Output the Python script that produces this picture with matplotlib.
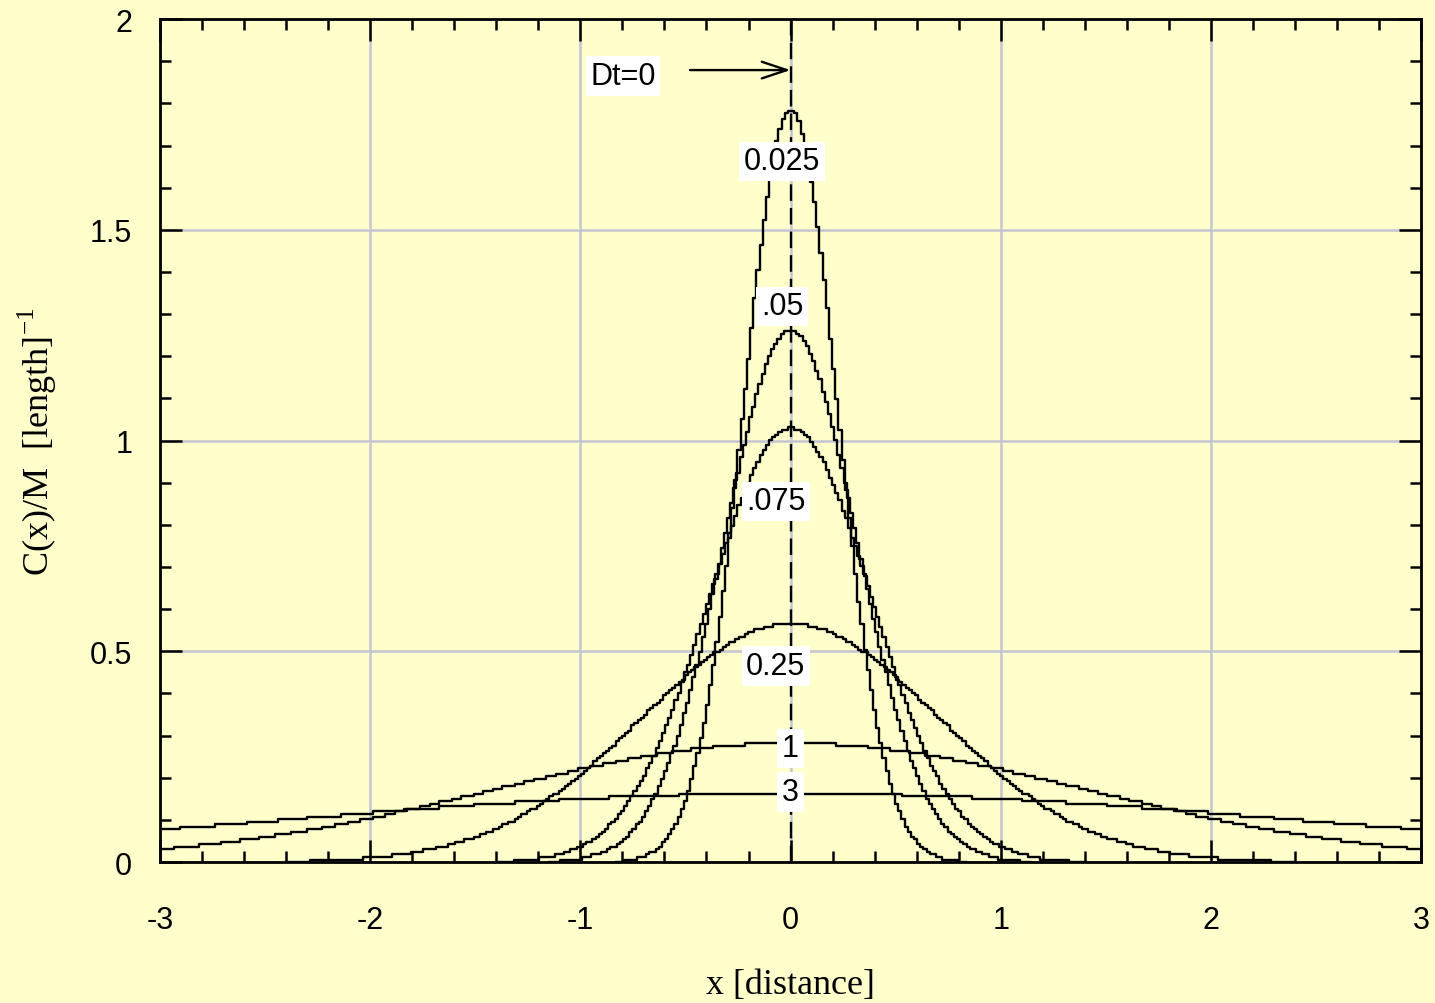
import numpy as np
import matplotlib
matplotlib.use('Agg')
import matplotlib.pyplot as plt
from matplotlib.ticker import MultipleLocator

plt.rcParams['axes.unicode_minus'] = False
plt.rcParams['mathtext.fontset'] = 'custom'
plt.rcParams['mathtext.rm'] = 'Liberation Serif'

# --- Data: Dt values of the diffusion profiles, their plotted half-widths and label spots ---
dt_values = [0.025, 0.05, 0.075, 0.25, 1.0, 3.0]
half_widths = [0.83, 1.15, 1.40, 2.40, 3.0, 3.0]
label_texts = ['0.025', '.05', '.075', '0.25', '1', '3']
label_x = [-0.04, -0.04, -0.07, -0.07, 0.0, 0.0]
label_y = [1.663, 1.319, 0.856, 0.465, 0.270, 0.166]

x_ticks = [-3, -2, -1, 0, 1, 2, 3]
y_ticks = [0, 0.5, 1, 1.5, 2]
y_tick_labels = ['0', '0.5', '1', '1.5', '2']

bg = '#ffffcc'
sans = 'Liberation Sans'
serif = 'Liberation Serif'
fs = 22

# plotting resolution (gives the stair-stepped look of the curves)
dx = 0.015
dq = 0.006


def profile(dt, half):
    # point source solution C(x)/M = exp(-x^2 / 4Dt) / sqrt(4 pi Dt)
    x = np.arange(-half, half + dx / 2, dx)
    c = np.exp(-x ** 2 / (4 * dt)) / np.sqrt(4 * np.pi * dt)
    return x, np.round(c / dq) * dq


fig = plt.figure(figsize=(14.35, 10.04), dpi=100, facecolor=bg)
ax = fig.add_axes([0.1115, 0.1404, 0.8788, 0.8396], facecolor=bg)

for dt, half in zip(dt_values, half_widths):
    x, c = profile(dt, half)
    ax.plot(x, c, color='black', lw=1.7, drawstyle='steps-mid', zorder=3)

# Dt = 0 : the initial spike at the origin
ax.plot([0, 0], [0, 2], color='black', lw=1.7, linestyle=(0, (7, 3)), zorder=3)

box = dict(boxstyle='square,pad=0.15', fc='white', ec='none')
for t, lx, ly in zip(label_texts, label_x, label_y):
    ax.text(lx, ly, t, fontsize=fs, family=sans, ha='center', va='center',
            bbox=box, zorder=5)

ax.text(-0.797, 1.865, 'Dt=0', fontsize=fs, family=sans, ha='center', va='center',
        bbox=box, zorder=5)
ax.annotate('', xy=(0, 1.879), xytext=(-0.478, 1.879),
            arrowprops=dict(arrowstyle='->,head_length=0.9,head_width=0.3',
                            color='black', lw=1.7, mutation_scale=20,
                            shrinkA=0, shrinkB=0), zorder=5)

ax.set_xlim(-3, 3)
ax.set_ylim(0, 2)
ax.set_xticks(x_ticks)
ax.set_xticklabels([str(v) for v in x_ticks])
ax.set_yticks(y_ticks)
ax.set_yticklabels(y_tick_labels)
ax.xaxis.set_minor_locator(MultipleLocator(0.2))
ax.yaxis.set_minor_locator(MultipleLocator(0.1))

ax.tick_params(which='both', direction='in', top=True, right=True,
               color='black', width=1.8)
ax.tick_params(which='major', length=16)
ax.tick_params(which='minor', length=8)
ax.tick_params(axis='x', which='major', pad=31, labelsize=fs)
ax.tick_params(axis='y', which='major', pad=20, labelsize=fs)
for lab in ax.get_xticklabels() + ax.get_yticklabels():
    lab.set_family(sans)

for s in ax.spines.values():
    s.set_linewidth(2)
    s.set_zorder(6)

ax.grid(True, which='major', color='#c4c4d0', lw=1.8, zorder=1)
ax.set_axisbelow(True)

ax.set_xlabel('x [distance]', fontsize=26, family=serif)
ax.set_ylabel(r'C(x)/M  [length]$^{\mathregular{-1}}$', fontsize=26, family=serif)
ax.xaxis.set_label_coords(0.5, -0.126)
ax.yaxis.set_label_coords(-0.08, 0.5)

fig.savefig('out.png', dpi=100, facecolor=bg)
